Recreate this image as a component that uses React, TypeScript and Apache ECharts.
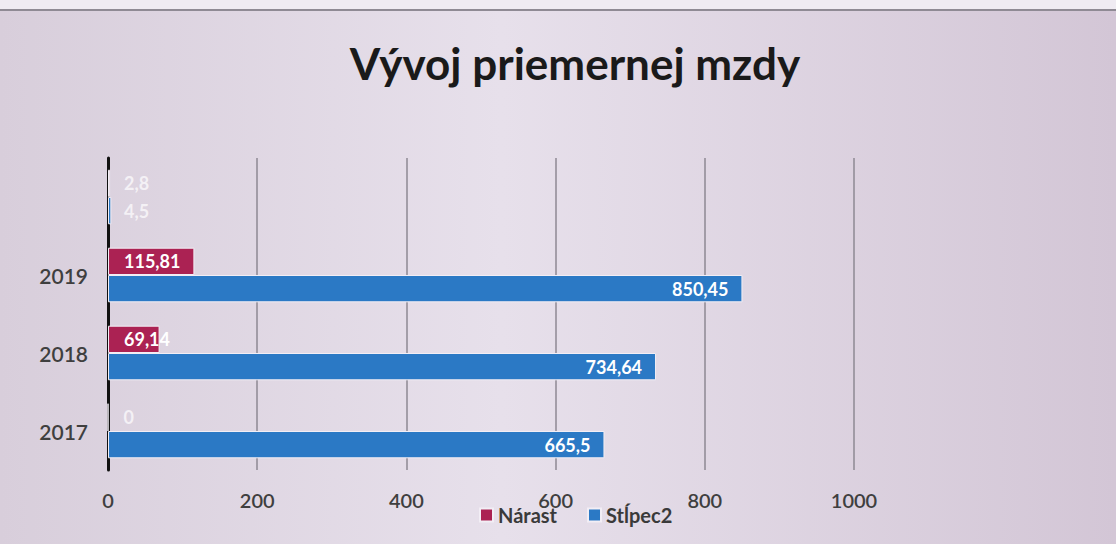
import React, { useEffect, useRef } from "react";
import * as echarts from "echarts";

const categories = ["2017", "2018", "2019", ""];
const narastValues = [0, 69.14, 115.81, 2.8];
const stlpecValues = [665.5, 734.64, 850.45, 4.5];
const xTicks = [0, 200, 400, 600, 800, 1000];

const fmt = (v: number) => String(v).replace(".", ",");

export default function App() {
  const ref = useRef<HTMLDivElement>(null);
  useEffect(() => {
    if (!ref.current) return;
    const chart = echarts.init(ref.current, null, { renderer: "svg" });
    const font = "Lato, 'Noto Sans', sans-serif";
    const labelBase = {
      show: true,
      fontFamily: font,
      fontWeight: "bold" as const,
      fontSize: 18,
      formatter: (p: any) => fmt(p.value),
    };
    const labelColor = (v: number) => (v < 20 ? "rgba(255,255,255,0.7)" : "#ffffff");
    chart.setOption({
      animation: false,
      backgroundColor: new echarts.graphic.LinearGradient(0, 0, 1, 0, [
        { offset: 0, color: "#d8cedb" },
        { offset: 0.45, color: "#e7e0eb" },
        { offset: 1, color: "#d3c6d6" },
      ]),
      graphic: [
        { type: "rect", shape: { x: 0, y: 0, width: 1116, height: 10 }, style: { fill: "#efebf2" } },
        { type: "line", shape: { x1: 0, y1: 10, x2: 1116, y2: 10 }, style: { stroke: "#8f8a94", lineWidth: 2 } },
      ],
      title: {
        text: "Vývoj priemernej mzdy",
        left: 570,
        textAlign: "center",
        top: 36,
        textStyle: {
          fontFamily: font,
          fontWeight: "bold",
          fontSize: 44,
          color: "#1a1a1a",
        },
      },
      legend: {
        data: ["Nárast", "Stĺpec2"],
        left: 474,
        top: 500,
        itemWidth: 13,
        itemHeight: 13,
        itemGap: 30,
        icon: "rect",
        textStyle: {
          fontFamily: font,
          fontSize: 20,
          fontWeight: "bold",
          color: "#3a3a3a",
        },
      },
      grid: { left: 108, right: 262, top: 158, bottom: 74, containLabel: false },
      xAxis: {
        type: "value",
        min: xTicks[0],
        max: xTicks[xTicks.length - 1],
        interval: 200,
        axisLine: { show: false },
        axisTick: { show: false },
        splitLine: { show: true, lineStyle: { color: "#8e8893", width: 1.5 } },
        axisLabel: {
          margin: 20,
          fontFamily: font,
          fontSize: 20,
          fontWeight: 600,
          color: "#3f3f3f",
          formatter: (v: number) => String(v),
        },
      },
      yAxis: {
        type: "category",
        data: categories,
        axisLine: { show: true, lineStyle: { color: "#111111", width: 3 } },
        axisTick: { show: false },
        axisLabel: {
          margin: 20,
          fontFamily: font,
          fontSize: 21,
          fontWeight: 600,
          color: "#3f3f3f",
        },
      },
      series: [
        {
          name: "Nárast",
          type: "bar",
          barGap: "0%",
          barCategoryGap: "30%",
          itemStyle: { color: "#ab2253", borderColor: "#f2eef5", borderWidth: 1 },
          data: narastValues.map((v) => ({
            value: v,
            label: { ...labelBase, color: labelColor(v), position: "insideLeft", distance: 16 },
          })),
          z: 3,
        },
        {
          name: "Stĺpec2",
          type: "bar",
          barGap: "0%",
          barCategoryGap: "30%",
          itemStyle: { color: "#2b79c5", borderColor: "#f2eef5", borderWidth: 1 },
          data: stlpecValues.map((v) => ({
            value: v,
            label: {
              ...labelBase,
              color: labelColor(v),
              position: v < 100 ? "insideLeft" : "insideRight",
              distance: v < 100 ? 16 : 14,
            },
          })),
          z: 3,
        },
      ],
    });
    return () => chart.dispose();
  }, []);
  return (
    <div
      ref={ref}
      style={{ position: "absolute", left: 0, top: 0, width: 1116, height: 544 }}
    />
  );
}
